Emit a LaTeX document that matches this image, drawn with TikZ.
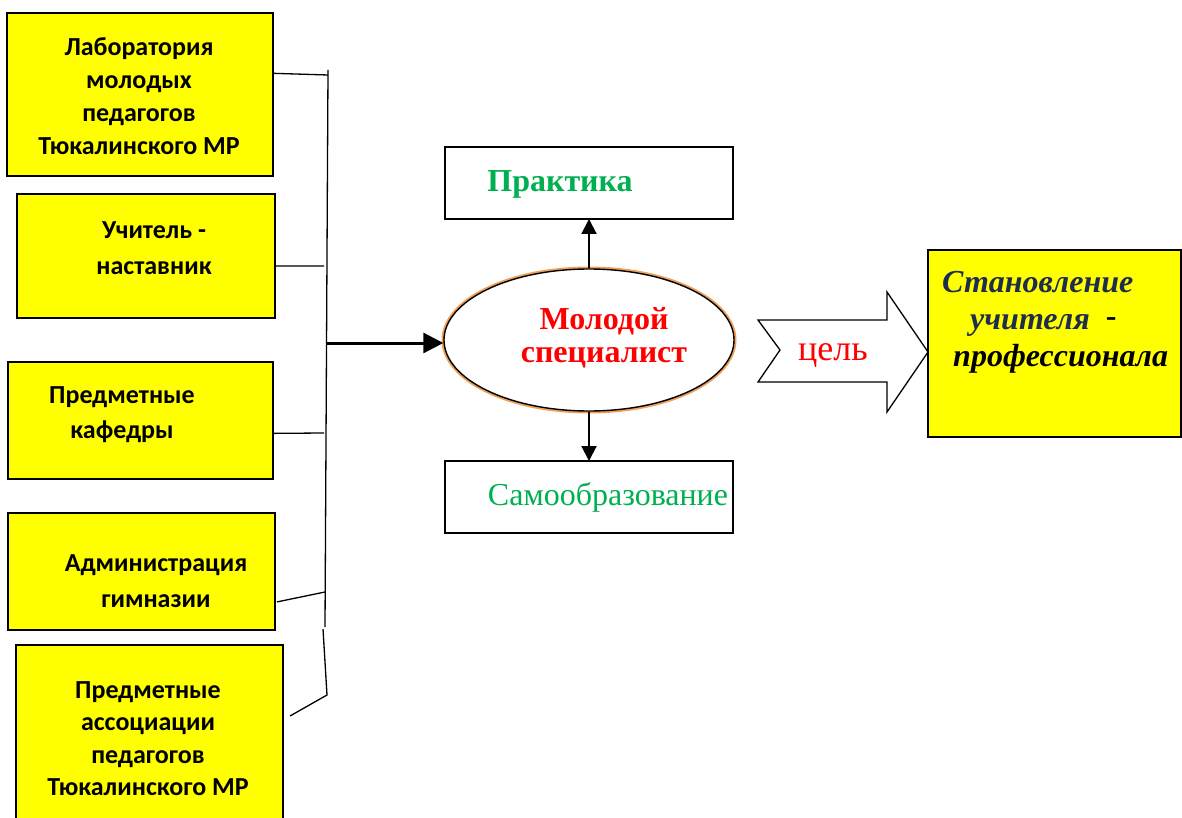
\documentclass[tikz,border=0pt]{standalone}
\usepackage{fontspec}
\setmainfont{Liberation Serif}
\newfontfamily\calibrifont{Carlito}
\usetikzlibrary{arrows.meta,shapes.geometric,calc}
\definecolor{boxyellow}{HTML}{FFFF00}
\definecolor{txtgreen}{HTML}{00B050}
\definecolor{navyblue}{HTML}{1F2D4D}
\definecolor{ringorange}{HTML}{F0A05A}
\begin{document}
\begin{tikzpicture}[x=1pt,y=-1pt,
  ybox/.style={draw=black,line width=2pt,fill=boxyellow,inner sep=0pt,outer sep=0pt},
  wbox/.style={draw=black,line width=1.5pt,fill=white,inner sep=0pt,outer sep=0pt},
  ltext/.style={font=\calibrifont\bfseries\fontsize{26}{33}\selectfont,align=center,inner sep=0pt},
  bus/.style={line width=1.3pt},
  arr/.style={line width=2pt,-{Triangle[length=15pt,width=15pt]}}]
\useasboundingbox (0,0) rectangle (1182,818);
\clip (0,0) rectangle (1182,818);
% left boxes
\node[ybox,minimum width=266pt,minimum height=163pt] (b1) at (140,94.5) {};
\node[ybox,minimum width=258pt,minimum height=124pt] (b2) at (146,256) {};
\node[ybox,minimum width=265pt,minimum height=117pt] (b3) at (140.5,420.5) {};
\node[ybox,minimum width=267pt,minimum height=117pt] (b4) at (141.5,571.5) {};
\node[ybox,minimum width=267pt,minimum height=185pt] (b5) at (149.5,737.5) {};
\node[ltext] (t1) at (139,96) {Лаборатория\\молодых\\педагогов\\Тюкалинского МР};
\node[ltext,font=\calibrifont\bfseries\fontsize{26}{36}\selectfont] (t2) at (154,248) {Учитель -\\наставник};
\node[ltext,font=\calibrifont\bfseries\fontsize{26}{35}\selectfont] (t3) at (122,414.5) {Предметные\\кафедры};
\node[ltext,font=\calibrifont\bfseries\fontsize{26}{36}\selectfont] (t4) at (156,581) {Администрация\\гимназии};
\node[ltext,font=\calibrifont\bfseries\fontsize{26}{32.5}\selectfont] (t5) at (148,738.5) {Предметные\\ассоциации\\педагогов\\Тюкалинского МР};
% bus
\coordinate (vtop) at (328,70);
\coordinate (vmid) at (325,627);
\coordinate (vb1) at (323,629);
\coordinate (vb2) at (327,695);
\coordinate (c5) at (290,716);
\coordinate (c1) at (328,75);
\coordinate (c2) at (324,266);
\coordinate (c3) at (324,433);
\coordinate (c4) at (325,592);
\coordinate (hub) at (326,343);
\draw[bus] (vtop) -- (vmid);
\draw[bus] (vb1) -- (vb2) -- (c5);
\draw[bus] ($(b1.north east)!0.37!(b1.south east)$) -- (c1);
\draw[bus] ($(b2.north east)!0.58!(b2.south east)$) -- (c2);
\draw[bus] ($(b3.north east)!0.61!(b3.south east)$) -- (c3);
\draw[bus] ($(b4.north east)!0.76!(b4.south east)+(2,0)$) -- (c4);
% centre
\node[ellipse,draw=black,line width=1.4pt,fill=white,minimum width=290pt,minimum height=142pt,
  preaction={draw=ringorange,line width=5pt}] (ms) at (589,340) {};
\node[font=\bfseries\fontsize{32}{33}\selectfont,text=red,align=center,inner sep=0pt] (mst) at (604,338) {Молодой\\специалист};
\node[wbox,minimum width=288pt,minimum height=72pt] (pr) at (589,183) {};
\node[wbox,minimum width=288pt,minimum height=72pt] (so) at (589,497) {};
\node[font=\bfseries\fontsize{32}{33}\selectfont,text=txtgreen,inner sep=0pt] (prt) at (560,184) {Практика};
\node[font=\fontsize{32}{33}\selectfont,text=txtgreen,inner sep=0pt] (sot) at (608,497) {Самообразование};
\draw[arr] (ms.north) -- (pr.south);
\draw[arr] (ms.south) -- (so.north);
\draw[line width=3pt,-{Triangle[length=20pt,width=20pt]}] (hub) -- (hub -| ms.west);
% goal arrow
\draw[line width=1.3pt,fill=white,line join=miter] (758,320) -- (887,320) -- (887,292) -- (928,352) -- (887,412) -- (887,382) -- (758,382) -- (780,350) -- cycle;
\node[font=\fontsize{36}{33}\selectfont,text=red,inner sep=0pt] (goal) at (833,355) {цель};
% goal box
\node[ybox,minimum width=253pt,minimum height=187pt] (gb) at (1054.5,343.5) {};
\node[font=\bfseries\itshape\fontsize{32}{37}\selectfont,align=left,anchor=west,inner sep=0pt] (gt) at (942,322)
  {\textcolor{navyblue}{Становление}\\\hspace*{28pt}\textcolor{navyblue}{учителя}\hspace{16pt}{\upshape\raisebox{3pt}{-}}\\\hspace*{11pt}профессионала};
\end{tikzpicture}
\end{document}
